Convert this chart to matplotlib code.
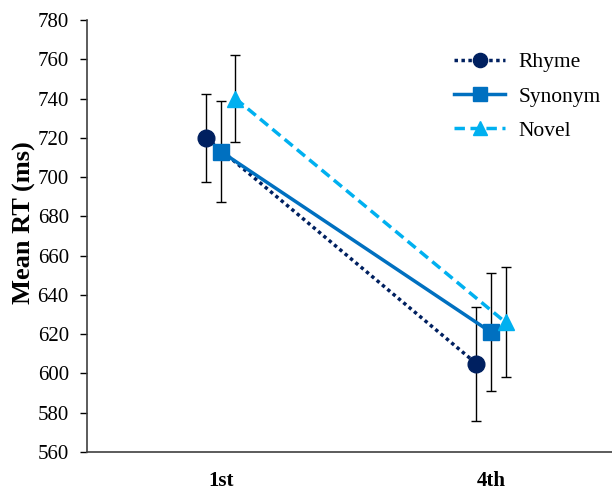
import matplotlib
matplotlib.use("Agg")
import matplotlib.pyplot as plt
import numpy as np

plt.rcParams["font.family"] = ["Liberation Serif", "DejaVu Serif"]

sessions = ["1st", "4th"]
series = ["Rhyme", "Synonym", "Novel"]
rhyme_rt = [720, 605]
rhyme_err = [22.5, 29]
synonym_rt = [713, 621]
synonym_err = [25.5, 30]
novel_rt = [740, 626]
novel_err = [22, 28]

means = [rhyme_rt, synonym_rt, novel_rt]
errs = [rhyme_err, synonym_err, novel_err]
colors = ["#002060", "#0070C0", "#00B0F0"]
markers = ["o", "s", "^"]
styles = [(0, (1, 1)), "-", (0, (3, 1.6))]
offsets = [-0.054, 0.0, 0.054]

fig = plt.figure(figsize=(6.12, 4.9), dpi=100)
ax = fig.add_axes([0.142, 0.0776, 0.858, 0.8816])

x = np.arange(len(sessions))
for name, m, e, c, mk, ls, off in zip(series, means, errs, colors, markers, styles, offsets):
    xs = x + off
    ax.errorbar(xs, m, yerr=e, fmt="none", ecolor="black", elinewidth=1.0,
                capsize=3.5, capthick=1.0, zorder=2)
    ax.plot(xs, m, linestyle=ls, color=c, lw=2.5, marker=mk, markersize=12,
            markeredgecolor=c, label=name, zorder=3)

ax.set_xlim(-0.496, 1.448)
ax.set_ylim(560, 780)
ax.set_yticks(np.arange(560, 781, 20))
ax.set_xticks(x)
ax.set_xticklabels(sessions, fontsize=15, fontweight="bold")
ax.tick_params(axis="x", length=0, pad=14)
ax.tick_params(axis="y", labelsize=15, length=5, width=1, direction="out", pad=8)
ax.set_ylabel("Mean RT (ms)", fontsize=19, fontweight="bold")
ax.yaxis.set_label_coords(-0.097, 0.53)

for side in ["top", "right"]:
    ax.spines[side].set_visible(False)
for side in ["left", "bottom"]:
    ax.spines[side].set_color("#404040")
    ax.spines[side].set_linewidth(1.2)

ax.legend(loc="upper right", bbox_to_anchor=(1.015, 0.97), frameon=False,
          fontsize=15.5, handlelength=2.4, labelspacing=0.66, handletextpad=0.6,
          markerscale=0.85)

fig.savefig("out.png", dpi=100)
plt.close(fig)
